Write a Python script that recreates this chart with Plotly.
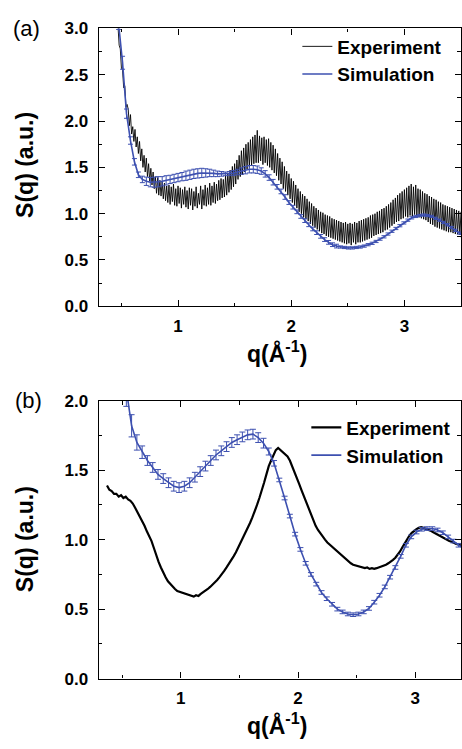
import numpy as np
import plotly.graph_objects as go

W, H = 462, 749
BLUE = "#3D50B0"
FONT = "Liberation Sans"

# ---------------- Panel (a) data ----------------
# Experiment: sampled every 0.01 starting at q = 0.47
exp_a_q0, exp_a_dq = 0.47, 0.01
exp_a_s = [
    3.02, 2.82, 2.78, 2.57,
    2.55, 2.36, 2.38, 2.15, 2.18,
    2.13, 1.95, 2.07, 1.86, 1.94,
    1.78, 1.91, 1.72, 1.83, 1.65,
    1.78, 1.57, 1.70, 1.50, 1.63,
    1.45, 1.60, 1.40, 1.54, 1.35,
    1.49, 1.31, 1.45, 1.27, 1.40,
    1.22, 1.39, 1.20, 1.36, 1.19,
    1.35, 1.16, 1.33, 1.14, 1.30,
    1.12, 1.31, 1.10, 1.29, 1.13,
    1.32, 1.09, 1.27, 1.08, 1.30,
    1.11, 1.28, 1.06, 1.26, 1.10,
    1.29, 1.07, 1.25, 1.05, 1.28,
    1.09, 1.27, 1.04, 1.24, 1.08,
    1.29, 1.06, 1.22, 1.10, 1.30,
    1.05, 1.26, 1.09, 1.31, 1.08,
    1.28, 1.10, 1.33, 1.09, 1.30,
    1.12, 1.34, 1.11, 1.32, 1.14,
    1.36, 1.15, 1.38, 1.17, 1.37,
    1.18, 1.41, 1.20, 1.44, 1.23,
    1.47, 1.26, 1.51, 1.29, 1.54,
    1.32, 1.58, 1.37, 1.63, 1.40,
    1.68, 1.42, 1.71, 1.45, 1.75,
    1.48, 1.77, 1.50, 1.80, 1.52,
    1.83, 1.54, 1.85, 1.55, 1.90,
    1.55, 1.84, 1.57, 1.82, 1.53,
    1.83, 1.55, 1.80, 1.52, 1.81,
    1.50, 1.77, 1.47, 1.74, 1.44,
    1.70, 1.41, 1.65, 1.36, 1.60,
    1.32, 1.56, 1.27, 1.51, 1.24,
    1.46, 1.20, 1.43, 1.16, 1.38,
    1.12, 1.35, 1.09, 1.31, 1.06,
    1.27, 1.02, 1.24, 1.00, 1.21,
    0.96, 1.19, 0.94, 1.16, 0.92,
    1.13, 0.89, 1.11, 0.87, 1.08,
    0.85, 1.06, 0.83, 1.04, 0.81,
    1.02, 0.79, 1.01, 0.78, 0.99,
    0.76, 0.98, 0.75, 0.97, 0.74,
    0.95, 0.73, 0.94, 0.72, 0.93,
    0.71, 0.92, 0.70, 0.91, 0.69,
    0.90, 0.68, 0.91, 0.67, 0.89,
    0.68, 0.90, 0.66, 0.89, 0.69,
    0.91, 0.67, 0.90, 0.69, 0.92,
    0.69, 0.93, 0.70, 0.94, 0.71,
    0.95, 0.72, 0.96, 0.73, 0.98,
    0.74, 0.99, 0.76, 1.00, 0.77,
    1.02, 0.78, 1.03, 0.79, 1.05,
    0.80, 1.06, 0.82, 1.08, 0.83,
    1.10, 0.85, 1.12, 0.87, 1.15,
    0.89, 1.17, 0.91, 1.20, 0.92,
    1.22, 0.94, 1.24, 0.95, 1.26,
    0.97, 1.28, 0.96, 1.30, 0.98,
    1.32, 0.97, 1.29, 0.99, 1.31,
    0.98, 1.27, 0.96, 1.26, 0.95,
    1.24, 0.94, 1.22, 0.93, 1.21,
    0.91, 1.19, 0.89, 1.18, 0.88,
    1.16, 0.86, 1.15, 0.85, 1.13,
    0.84, 1.12, 0.83, 1.10, 0.82,
    1.09, 0.81, 1.08, 0.80, 1.07,
    0.80, 1.06, 0.79, 1.05, 0.78,
    1.04, 0.78, 1.03, 0.77, 1.02,
]

sim_a_q = [
    0.475, 0.51, 0.545, 0.58, 0.615, 0.65, 0.685, 0.72, 0.755, 0.79,
    0.825, 0.86, 0.895, 0.93, 0.965, 1.00, 1.035, 1.07, 1.105, 1.14,
    1.175, 1.21, 1.245, 1.28, 1.315, 1.35, 1.385, 1.42, 1.455, 1.49,
    1.525, 1.56, 1.595, 1.63, 1.665, 1.70, 1.735, 1.77, 1.805, 1.84,
    1.875, 1.91, 1.945, 1.98, 2.015, 2.05, 2.085, 2.12, 2.155, 2.19,
    2.225, 2.26, 2.295, 2.33, 2.365, 2.40, 2.435, 2.47, 2.505, 2.54,
    2.575, 2.61, 2.645, 2.68, 2.715, 2.75, 2.785, 2.82, 2.855, 2.89,
    2.925, 2.96, 2.995, 3.03, 3.065, 3.10, 3.135, 3.17, 3.205, 3.24,
    3.275, 3.31, 3.345, 3.38, 3.415, 3.45, 3.485, 3.52,
]
sim_a_s = [
    3.05, 2.63, 2.08, 1.79, 1.56, 1.42, 1.37, 1.35, 1.34, 1.34,
    1.345, 1.35, 1.36, 1.37, 1.38, 1.39, 1.40, 1.41, 1.42, 1.43,
    1.435, 1.44, 1.44, 1.44, 1.435, 1.43, 1.43, 1.43, 1.435, 1.44,
    1.45, 1.46, 1.47, 1.48, 1.48, 1.475, 1.46, 1.43, 1.39, 1.34,
    1.29, 1.24, 1.18, 1.12, 1.07, 1.02, 0.97, 0.925, 0.88, 0.835,
    0.795, 0.755, 0.72, 0.69, 0.665, 0.65, 0.64, 0.635, 0.63, 0.63,
    0.635, 0.64, 0.65, 0.665, 0.68, 0.70, 0.725, 0.75, 0.78, 0.81,
    0.84, 0.87, 0.90, 0.93, 0.955, 0.97, 0.98, 0.985, 0.98, 0.97,
    0.95, 0.93, 0.905, 0.88, 0.85, 0.82, 0.79, 0.76,
]
sim_a_err = [
    0.06, 0.07, 0.05, 0.04, 0.035, 0.03, 0.035, 0.045, 0.05, 0.055,
    0.055, 0.05, 0.05, 0.045, 0.045, 0.045, 0.045, 0.05, 0.05, 0.05,
    0.05, 0.05, 0.045, 0.04, 0.035, 0.03, 0.025, 0.02, 0.02, 0.025,
    0.03, 0.035, 0.04, 0.04, 0.04, 0.04, 0.035, 0.035, 0.03, 0.03,
    0.025, 0.025, 0.025, 0.02, 0.02, 0.02, 0.02, 0.02, 0.02, 0.02,
    0.02, 0.02, 0.02, 0.02, 0.02, 0.02, 0.012, 0.012, 0.012, 0.012,
    0.012, 0.012, 0.012, 0.012, 0.012, 0.012, 0.012, 0.012, 0.012, 0.012,
    0.012, 0.012, 0.012, 0.012, 0.012, 0.012, 0.012, 0.012, 0.012, 0.012,
    0.012, 0.012, 0.012, 0.012, 0.012, 0.012, 0.012, 0.012,
]

# ---------------- Panel (b) data ----------------
exp_b_q0, exp_b_dq = 0.37, 0.02
exp_b_s = [
    1.39, 1.36, 1.35, 1.33, 1.33, 1.31, 1.32, 1.30, 1.31, 1.29,
    1.28, 1.26, 1.23, 1.20, 1.16, 1.13, 1.10, 1.06, 1.03, 0.99,
    0.94, 0.88, 0.84, 0.80, 0.76, 0.73, 0.70, 0.68, 0.66, 0.645,
    0.63, 0.625, 0.615, 0.61, 0.605, 0.60, 0.595, 0.59, 0.60, 0.595,
    0.61, 0.62, 0.63, 0.645, 0.66, 0.675, 0.69, 0.71, 0.73, 0.75,
    0.775, 0.80, 0.825, 0.85, 0.88, 0.91, 0.945, 0.975, 1.01, 1.04,
    1.08, 1.12, 1.16, 1.20, 1.25, 1.30, 1.35, 1.41, 1.47, 1.53,
    1.57, 1.61, 1.645, 1.66, 1.645, 1.63, 1.615, 1.60, 1.57, 1.53,
    1.49, 1.445, 1.40, 1.355, 1.31, 1.265, 1.22, 1.18, 1.14, 1.10,
    1.07, 1.045, 1.02, 1.00, 0.98, 0.965, 0.95, 0.935, 0.92, 0.90,
    0.885, 0.87, 0.855, 0.84, 0.83, 0.82, 0.815, 0.805, 0.80, 0.80,
    0.795, 0.80, 0.79, 0.795, 0.79, 0.795, 0.80, 0.805, 0.81, 0.82,
    0.83, 0.84, 0.855, 0.87, 0.89, 0.915, 0.945, 0.975, 1.005, 1.03,
    1.05, 1.065, 1.075, 1.085, 1.09, 1.085, 1.08, 1.075, 1.065, 1.055,
    1.045, 1.035, 1.025, 1.015, 1.01, 1.00, 0.99, 0.985, 0.975, 0.97,
    0.965, 0.955, 0.95,
]

sim_b_q = [
    0.535, 0.58, 0.625, 0.67, 0.715, 0.76, 0.805, 0.85, 0.895, 0.94,
    0.985, 1.03, 1.075, 1.12, 1.165, 1.21, 1.255, 1.30, 1.345, 1.39,
    1.435, 1.48, 1.525, 1.57, 1.615, 1.66, 1.705, 1.75, 1.795, 1.84,
    1.885, 1.93, 1.975, 2.02, 2.065, 2.11, 2.155, 2.20, 2.245, 2.29,
    2.335, 2.38, 2.425, 2.47, 2.515, 2.56, 2.605, 2.65, 2.695, 2.74,
    2.785, 2.83, 2.875, 2.92, 2.965, 3.01, 3.055, 3.10, 3.145, 3.19,
    3.235, 3.28, 3.325, 3.37, 3.415,
]
sim_b_s = [
    2.08, 1.82, 1.70, 1.63, 1.57, 1.52, 1.47, 1.44, 1.41, 1.385,
    1.375, 1.385, 1.41, 1.45, 1.49, 1.53, 1.57, 1.61, 1.64, 1.67,
    1.70, 1.72, 1.74, 1.755, 1.76, 1.735, 1.695, 1.635, 1.55, 1.43,
    1.30, 1.17, 1.04, 0.93, 0.83, 0.75, 0.68, 0.62, 0.575, 0.535,
    0.50, 0.48, 0.465, 0.46, 0.465, 0.48, 0.505, 0.55, 0.60, 0.66,
    0.73, 0.80, 0.88, 0.96, 1.02, 1.055, 1.075, 1.08, 1.08, 1.07,
    1.05, 1.02, 0.99, 0.96, 0.94,
]
sim_b_err = [
    0.12, 0.08, 0.055, 0.045, 0.035, 0.035, 0.035, 0.035, 0.035, 0.035,
    0.035, 0.035, 0.035, 0.035, 0.035, 0.035, 0.035, 0.035, 0.035, 0.035,
    0.035, 0.035, 0.035, 0.035, 0.035, 0.035, 0.035, 0.025, 0.02, 0.013,
    0.013, 0.013, 0.013, 0.013, 0.013, 0.013, 0.013, 0.013, 0.013, 0.013,
    0.013, 0.013, 0.013, 0.013, 0.013, 0.013, 0.013, 0.013, 0.013, 0.013,
    0.013, 0.013, 0.013, 0.013, 0.013, 0.013, 0.013, 0.013, 0.013, 0.013,
    0.013, 0.013, 0.013, 0.013, 0.013,
]

exp_a_q = np.round(exp_a_q0 + exp_a_dq * np.arange(len(exp_a_s)), 3)
exp_b_q = np.round(exp_b_q0 + exp_b_dq * np.arange(len(exp_b_s)), 3)

# ---------------- Figure ----------------
fig = go.Figure()
fig.add_trace(go.Scatter(x=exp_a_q, y=exp_a_s, mode="lines", name="Experiment",
                         line=dict(color="black", width=0.9), xaxis="x", yaxis="y",
                         legend="legend"))
fig.add_trace(go.Scatter(x=sim_a_q, y=sim_a_s, mode="lines", name="Simulation",
                         line=dict(color=BLUE, width=1.6), xaxis="x", yaxis="y",
                         error_y=dict(type="data", array=sim_a_err, color=BLUE,
                                      thickness=1, width=2.5),
                         legend="legend"))
fig.add_trace(go.Scatter(x=exp_b_q, y=exp_b_s, mode="lines", name="Experiment",
                         line=dict(color="black", width=2.2), xaxis="x2", yaxis="y2",
                         legend="legend2"))
fig.add_trace(go.Scatter(x=sim_b_q, y=sim_b_s, mode="lines", name="Simulation",
                         line=dict(color=BLUE, width=1.6), xaxis="x2", yaxis="y2",
                         error_y=dict(type="data", array=sim_b_err, color=BLUE,
                                      thickness=1, width=3),
                         legend="legend2"))

def px_x(p):
    return p / W

def px_y(p):
    return 1 - p / H

tickfont = dict(family=FONT, size=17, color="black", weight="bold")
common = dict(showline=True, linecolor="black", linewidth=1.4, mirror="ticks",
              ticks="inside", ticklen=6, tickwidth=1.4, tickcolor="black",
              showgrid=False, zeroline=False, tickfont=tickfont)
minor_x = dict(dtick=0.5, ticks="inside", ticklen=3.5, tickwidth=1.2,
               tickcolor="black", showgrid=False)
minor_y = dict(dtick=0.25, ticks="inside", ticklen=3.5, tickwidth=1.2,
               tickcolor="black", showgrid=False)

xdom = [px_x(99), 1.0]
legfont = dict(family=FONT, size=19, color="black", weight="bold")
fig.update_layout(
    width=W, height=H, margin=dict(l=0, r=0, t=0, b=0),
    paper_bgcolor="white", plot_bgcolor="white", showlegend=True,
    xaxis=dict(domain=xdom, anchor="y", range=[0.3, 3.5], tick0=0, dtick=1,
               ticklabelstandoff=4, minor=minor_x, **common),
    yaxis=dict(domain=[px_y(305), px_y(20)], anchor="x", range=[0, 3.0], tick0=0,
               dtick=0.5, tickformat=".1f", ticklabelstandoff=6, minor=minor_y,
               **common),
    xaxis2=dict(domain=xdom, anchor="y2", range=[0.3, 3.39], tick0=0, dtick=1,
                ticklabelstandoff=4, minor=minor_x, **common),
    yaxis2=dict(domain=[px_y(687), px_y(402)], anchor="x2", range=[0, 2.0], tick0=0,
                dtick=0.5, tickformat=".1f", ticklabelstandoff=6, minor=minor_y,
                **common),
    legend=dict(x=px_x(298), y=px_y(19), xanchor="left", yanchor="top",
                bgcolor="rgba(0,0,0,0)", borderwidth=0, font=legfont),
    legend2=dict(x=px_x(307), y=px_y(410), xanchor="left", yanchor="top",
                 bgcolor="rgba(0,0,0,0)", borderwidth=0, font=legfont),
)

title_font = dict(family=FONT, size=23, color="black", weight="bold")
annotations = [
    dict(text="S(q) (a.u.)", x=px_x(25), y=px_y(160), textangle=-90, font=title_font),
    dict(text="S(q) (a.u.)", x=px_x(25), y=px_y(544), textangle=-90, font=title_font),
    dict(text="q(Å<sup>-1</sup>)", x=px_x(278), y=px_y(352), font=title_font),
    dict(text="q(Å<sup>-1</sup>)", x=px_x(278), y=px_y(734), font=title_font),
    dict(text="(a)", x=px_x(27), y=px_y(20), font=dict(family=FONT, size=22, color="black")),
    dict(text="(b)", x=px_x(29), y=px_y(402), font=dict(family=FONT, size=22, color="black")),
]
for a in annotations:
    a.update(xref="paper", yref="paper", xanchor="center", yanchor="middle",
             showarrow=False)
fig.update_layout(annotations=annotations)

fig.write_html("out.html", config={"displayModeBar": False},
               post_script="document.body.style.margin='0px';"
                           "document.body.style.overflow='hidden';")
